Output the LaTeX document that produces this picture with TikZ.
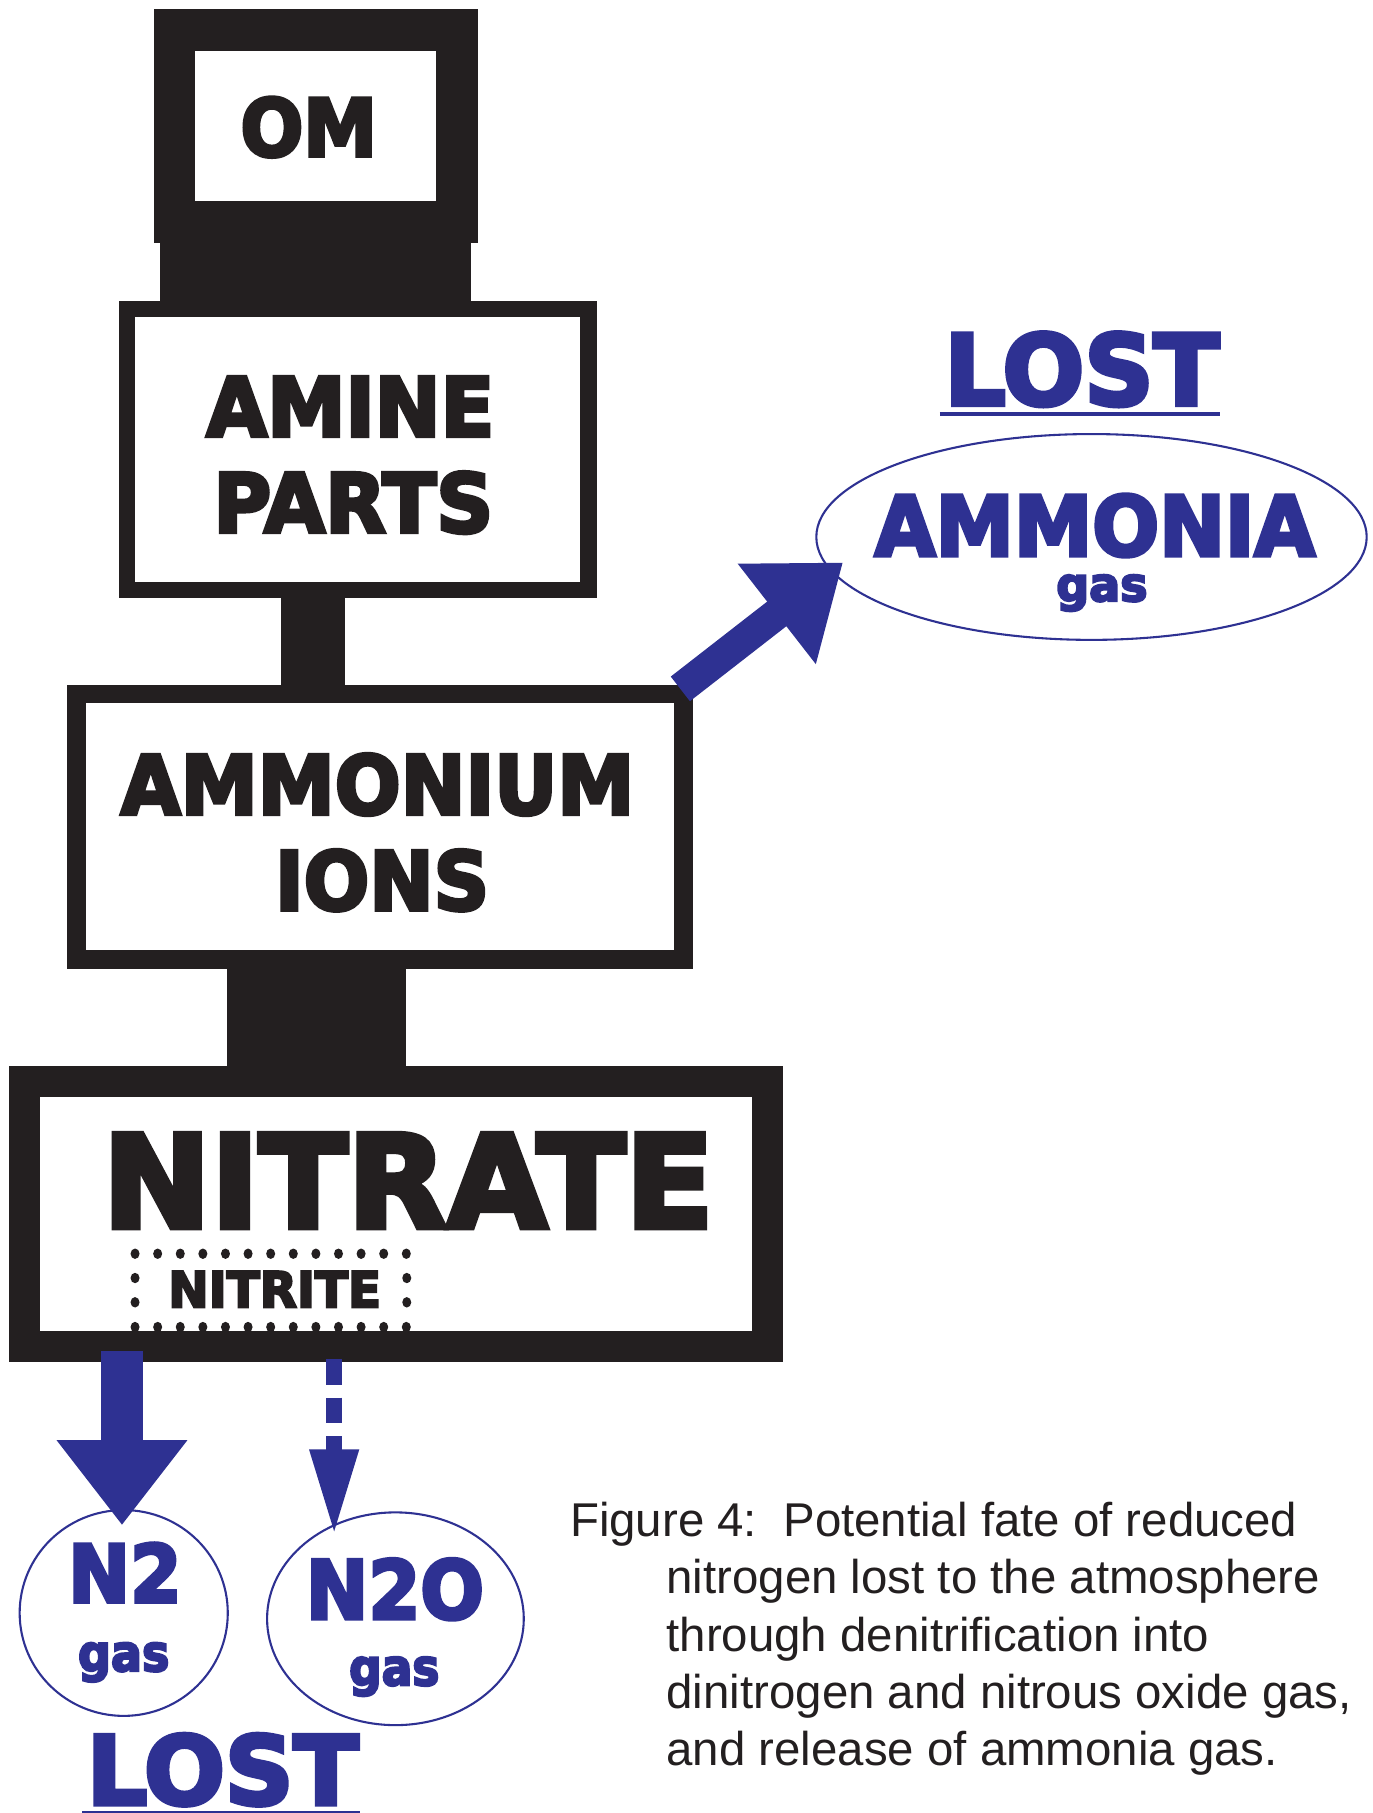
\documentclass[tikz,border=0pt]{standalone}
\usepackage{fontspec}
\usepackage{graphicx}
\usetikzlibrary{arrows.meta,shapes.geometric}
\setmainfont{Liberation Sans}
\newfontfamily\heavyfont{DejaVu Sans}[UprightFont={* Bold}, UprightFeatures={FakeBold=4.5}]
\definecolor{nblack}{RGB}{35,31,32}
\definecolor{nblue}{RGB}{46,49,146}
\newcommand{\fitcap}[3]{\resizebox{#1pt}{#2pt}{\heavyfont #3}}
\newcommand{\fittot}[3]{\resizebox*{#1pt}{#2pt}{\heavyfont #3}}
\begin{document}
\begin{tikzpicture}[x=1pt,y=-1pt,
  box/.style={draw=nblack, fill=white, inner sep=0pt, rectangle},
  stem/.style={draw=nblack, line cap=butt},
  lbl/.style={inner sep=0pt, outer sep=0pt, text=nblack},
  blbl/.style={inner sep=0pt, outer sep=0pt, text=nblue},
  gasnode/.style={draw=nblue, line width=1.8pt, ellipse, inner sep=0pt, fill=white},
  caption/.style={inner sep=0pt, outer sep=0pt, anchor=base west, text=nblack, font=\fontsize{41}{49}\selectfont},
  bigarrow/.style={draw=nblue, line cap=butt}
]
\useasboundingbox (0,0) rectangle (1187,1568);
\fill[white] (0,0) rectangle (1187,1568);

% boxes
\node[box, line width=36pt, minimum width=244pt, minimum height=166pt] (om) at (273,109) {};
\node[box, line width=14pt, minimum width=399pt, minimum height=243pt] (amine) at (309.5,388.5) {};
\node[box, line width=16pt, minimum width=525pt, minimum height=230pt] (ammonium) at (328.5,715) {};
\node[box, line width=27pt, minimum width=642pt, minimum height=229pt] (nitrate) at (342.5,1050) {};

% stems
\draw[stem, line width=269pt] (om.south) -- (om.south |- amine.north);
\coordinate (s2) at ([xshift=-39pt]amine.south);
\draw[stem, line width=55pt] (s2) -- (s2 |- ammonium.north);
\coordinate (s3) at ([xshift=-55pt]ammonium.south);
\draw[stem, line width=155pt] (s3) -- (s3 |- nitrate.north);

% box labels
\node[lbl] (omt) at (267,110) {\fitcap{118}{51}{OM}};
\node[lbl] (aminet) at (303,351.5) {\fitcap{249}{51.5}{AMINE}};
\node[lbl] (partst) at (305.5,434.7) {\fitcap{242}{52.4}{PARTS}};
\node[lbl] (ammoniumt) at (326.5,678.5) {\fitcap{444}{52.3}{AMMONIUM}};
\node[lbl] (ionst) at (330.5,761.4) {\fitcap{185}{52.1}{IONS}};
\node[lbl] (nitratet) at (353,1021) {\fitcap{528}{81}{NITRATE}};

% nitrite dotted box
\node[inner sep=0pt, minimum width=234.6pt, minimum height=63pt] (nitrite) at (234.3,1116) {};
\node[lbl] (nitritet) at (237.5,1115) {\fitcap{184}{31}{NITRITE}};
\foreach \i in {0,...,12} {
  \fill[nblack] ([xshift=\i*19.55pt]nitrite.north west) ellipse[x radius=3.9pt, y radius=4.5pt];
  \fill[nblack] ([xshift=\i*19.55pt]nitrite.south west) ellipse[x radius=3.9pt, y radius=4.5pt];
}
\foreach \j in {1,2} {
  \fill[nblack] ([yshift=-\j*21pt]nitrite.north west) ellipse[x radius=3.9pt, y radius=4.5pt];
  \fill[nblack] ([yshift=-\j*21pt]nitrite.north east) ellipse[x radius=3.9pt, y radius=4.5pt];
}

% gas ellipses
\node[gasnode, minimum width=180pt, minimum height=178pt] (n2) at (107,1395) {};
\node[gasnode, minimum width=222pt, minimum height=184pt] (n2o) at (342,1400) {};
\node[gasnode, minimum width=476pt, minimum height=178pt] (ammonia) at (944,464.4) {};

\node[blbl] (n2t) at (108,1360) {\fitcap{98}{51}{N2}};
\node[blbl] (gas1) at (107,1437.7) {\fittot{79}{34}{gas}};
\node[blbl] (n2ot) at (341.5,1374.5) {\fitcap{154}{52}{N2O}};
\node[blbl] (gas2) at (341,1450) {\fittot{78}{34}{gas}};
\node[blbl] (ammoniat) at (947,454.5) {\fitcap{381}{53.2}{AMMONIA}};
\node[blbl] (gas3) at (953,512.9) {\fittot{79}{31.6}{gas}};

% LOST labels
\node[blbl] (lost1) at (192.5,1530.6) {\fitcap{235}{61}{LOST}};
\draw[nblue, line width=2.7pt] ([xshift=-4pt,yshift=-5.8pt]lost1.south west) -- ([xshift=1pt,yshift=-5.8pt]lost1.south east);
\node[blbl] (lost2) at (935.7,319.4) {\fitcap{237.5}{62.8}{LOST}};
\draw[nblue, line width=4pt] ([xshift=-4pt,yshift=-6.8pt]lost2.south west) -- ([xshift=1pt,yshift=-6.8pt]lost2.south east);

% arrows
\coordinate (n2s) at ([xshift=-237pt,yshift=9.5pt]nitrate.south);
\coordinate (n2tip) at ([yshift=-14pt]n2.north);
\draw[bigarrow, line width=36pt, -{Triangle[length=73.5pt,width=108pt]}] (n2s) -- (n2s |- n2tip);

\coordinate (n2os) at ([xshift=-53.5pt,yshift=2.5pt]nitrate.south);
\coordinate (n2otip) at ([yshift=-21pt]n2o.north);
\draw[bigarrow, line width=13.6pt, dash pattern=on 22pt off 11.3pt, -{Triangle[length=74.5pt,width=39pt]}] (n2os) -- (n2os |- n2otip);

\coordinate (nh3s) at ([xshift=-10.6pt,yshift=-3.8pt]ammonium.north east);
\coordinate (nh3tip) at ([xshift=24pt,yshift=-22pt]ammonia.west);
\draw[bigarrow, line width=27pt, -{Triangle[length=72.6pt,width=105pt]}] (nh3s) -- (nh3tip);

% caption
\node[caption] (cap1) at (493,1328.7) {Figure 4:\ \ Potential fate of reduced};
\node[caption] (cap2) at (576.5,1378.3) {nitrogen lost to the atmosphere};
\node[caption] (cap3) at (576.5,1427.9) {through denitrification into};
\node[caption] (cap4) at (576.5,1477.5) {dinitrogen and nitrous oxide gas,};
\node[caption] (cap5) at (576.5,1527.1) {and release of ammonia gas.};
\end{tikzpicture}
\end{document}
